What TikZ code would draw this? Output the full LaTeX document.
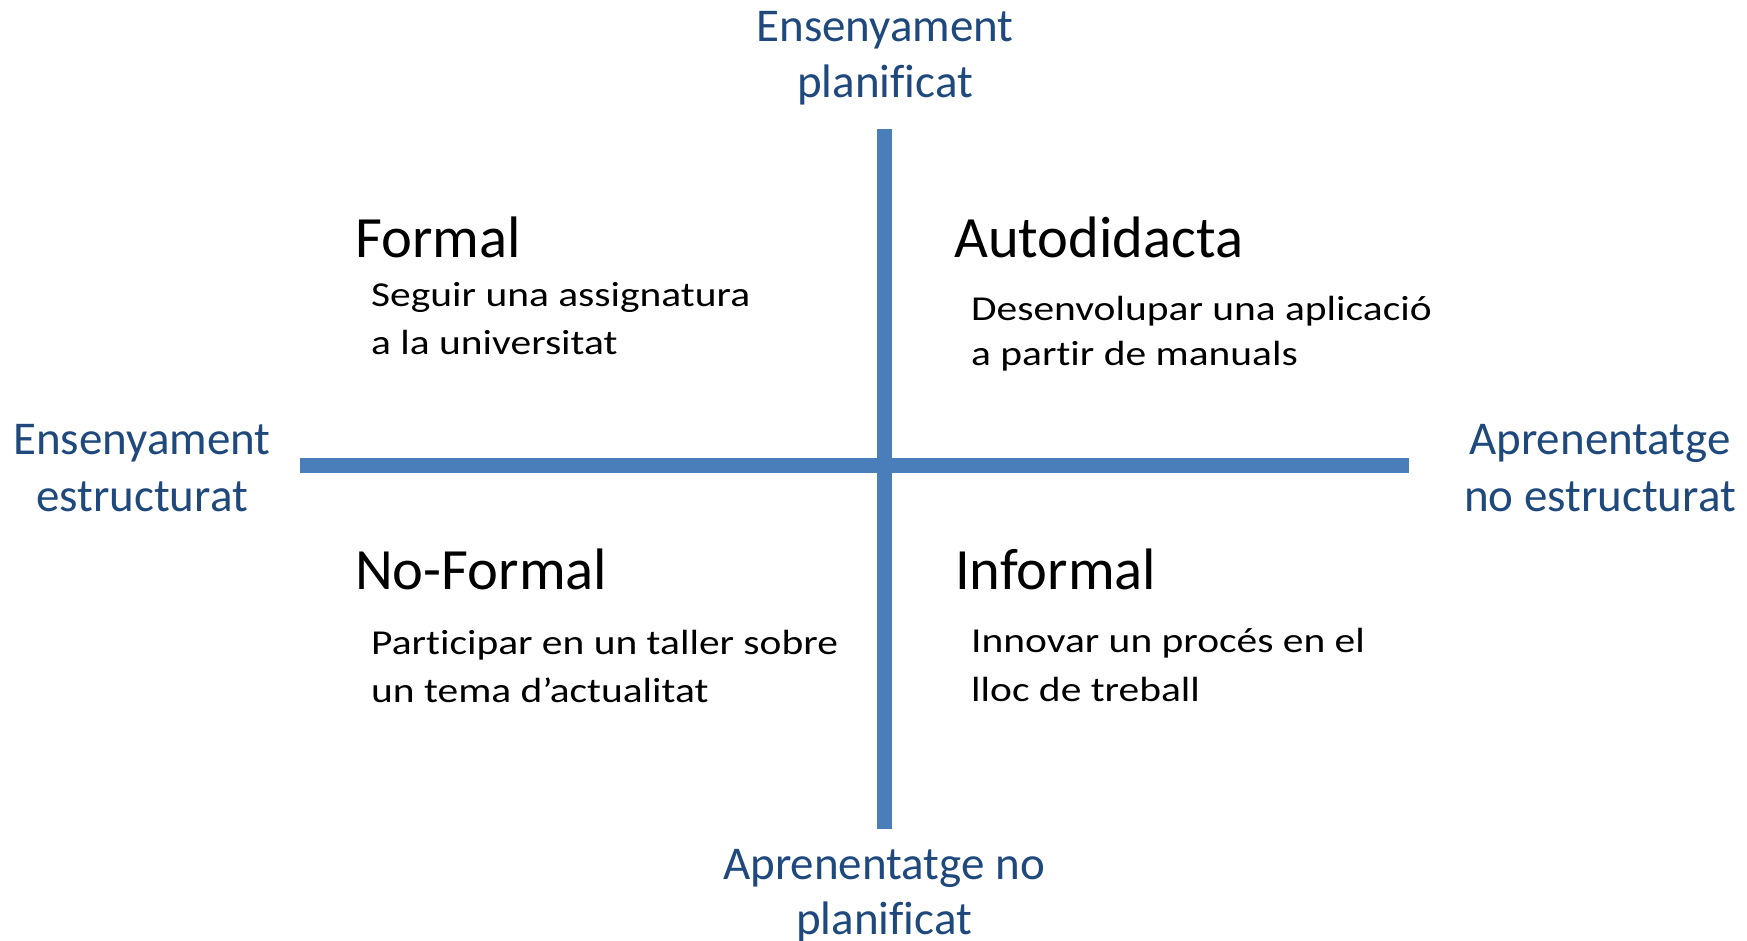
\documentclass[tikz,border=0pt]{standalone}
\usepackage{fontspec}
\setmainfont{Carlito}[Ligatures=NoCommon]
\newfontfamily\bodyfont{Carlito}[Ligatures=NoCommon,FakeStretch=1.185]
\definecolor{axisblue}{HTML}{4A7EBB}
\definecolor{labelblue}{HTML}{1F497D}
\begin{document}
\begin{tikzpicture}[x=1pt,y=1pt,
  axis/.style={draw=axisblue,line width=15pt},
  axlabel/.style={anchor=base,inner sep=0pt,text=labelblue,font=\fontsize{47}{56}\selectfont},
  qtitle/.style={anchor=base west,inner sep=0pt,text=black,font=\fontsize{58.5}{68}\selectfont},
  qtext/.style={anchor=base west,inner sep=0pt,text=black,font=\bodyfont\fontsize{35}{48}\selectfont}]
\useasboundingbox[fill=white] (0,0) rectangle (1747,941);
% axes
\coordinate (top) at (884.5,812);
\coordinate (bottom) at (884.5,112);
\coordinate (left) at (300,475);
\coordinate (right) at (1409,475);
\draw[axis] (left) -- (right);
\draw[axis] (top) -- (bottom);
% axis labels
\node[axlabel] (t1) at (885,899) {Ensenyament};
\node[axlabel] (t2) at (885,843) {planificat};
\node[axlabel] (l1) at (142,486) {Ensenyament};
\node[axlabel] (l2) at (142,429) {estructurat};
\node[axlabel] (r1) at (1600,486) {Aprenentatge};
\node[axlabel] (r2) at (1600,429) {no estructurat};
\node[axlabel] (b1) at (884,61) {Aprenentatge no};
\node[axlabel] (b2) at (884,6) {planificat};
% quadrants
\node[qtitle] (formal) at (355,683) {Formal};
\node[qtext] (f1) at (371,634) {Seguir una assignatura};
\node[qtext] (f2) at (371,586) {a la universitat};
\node[qtitle] (auto) at (954,683) {Autodidacta};
\node[qtext] (a1) at (971,620) {Desenvolupar una aplicació};
\node[qtext] (a2) at (971,575) {a partir de manuals};
\node[qtitle] (noformal) at (355,351) {No-Formal};
\node[qtext] (n1) at (371,286) {Participar en un taller sobre};
\node[qtext] (n2) at (371,238) {un tema d’actualitat};
\node[qtitle] (informal) at (955,351) {Informal};
\node[qtext] (i1) at (971,288) {Innovar un procés en el};
\node[qtext] (i2) at (971,239) {lloc de treball};
\end{tikzpicture}
\end{document}
